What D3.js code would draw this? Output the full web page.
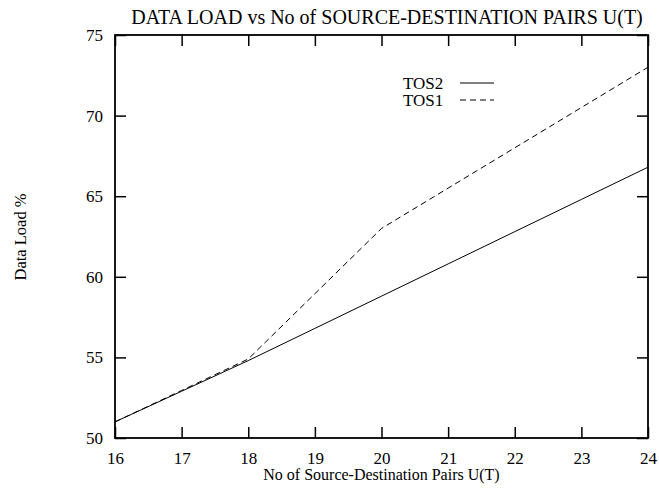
<!DOCTYPE html>
<html>
<head>
    <meta charset="utf-8">
    <script src="https://d3js.org/d3.v7.min.js"></script>
    <style>
        body { margin: 0; background: #fff; }
    </style>
</head>
<body>
<script>

    var pairs = [16, 17, 18, 19, 20, 21, 22, 23, 24];
    var tos2 = [51, 52.9, 54.8, 56.8, 58.8, 60.8, 62.8, 64.8, 66.8];
    var tos1x = [16, 17, 18, 20, 24];
    var tos1 = [51, 52.95, 54.9, 63, 73];
    var yTicks = [50, 55, 60, 65, 70, 75];

    var width = 659, height = 489;
    var pLeft = 115, pRight = 648, pTop = 35, pBottom = 438;
    var serif = '"Liberation Serif", "Times New Roman", Times, "DejaVu Serif", serif';

    var svg = d3.select('body').append('svg')
        .attr('width', width)
        .attr('height', height);

    var x = d3.scaleLinear().domain([16, 24]).range([pLeft, pRight]);
    var y = d3.scaleLinear().domain([50, 75]).range([pBottom, pTop]);

    // ticks (inward, mirrored)
    var tl = 11;
    var gxb = svg.append('g').attr('transform', 'translate(0,' + pBottom + ')')
        .call(d3.axisBottom(x).tickValues(pairs).tickSize(-tl).tickPadding(14));
    var gxt = svg.append('g').attr('transform', 'translate(0,' + pTop + ')')
        .call(d3.axisTop(x).tickValues(pairs).tickSize(-tl).tickFormat(''));
    var gyl = svg.append('g').attr('transform', 'translate(' + pLeft + ',0)')
        .call(d3.axisLeft(y).tickValues(yTicks).tickSize(-tl).tickPadding(12));
    var gyr = svg.append('g').attr('transform', 'translate(' + pRight + ',0)')
        .call(d3.axisRight(y).tickValues(yTicks).tickSize(-tl).tickFormat(''));

    svg.selectAll('g').attr('font-family', serif).attr('font-size', 17);
    svg.selectAll('.domain').remove();
    svg.selectAll('.tick line').attr('stroke', '#000').attr('stroke-width', 1.5);
    svg.selectAll('.tick text').attr('fill', '#000');

    svg.append('rect')
        .attr('x', pLeft).attr('y', pTop)
        .attr('width', pRight - pLeft).attr('height', pBottom - pTop)
        .attr('fill', 'none').attr('stroke', '#000').attr('stroke-width', 1.8);

    var line = d3.line()
        .x(function(d) { return x(d[0]); })
        .y(function(d) { return y(d[1]); });

    svg.append('path')
        .datum(pairs.map(function(p, i) { return [p, tos2[i]]; }))
        .attr('d', line)
        .attr('fill', 'none').attr('stroke', '#000').attr('stroke-width', 1);

    svg.append('path')
        .datum(tos1x.map(function(p, i) { return [p, tos1[i]]; }))
        .attr('d', line)
        .attr('fill', 'none').attr('stroke', '#000').attr('stroke-width', 1)
        .attr('stroke-dasharray', '6,4');

    // legend
    var legend = [{name: 'TOS2', dash: null, y: 83}, {name: 'TOS1', dash: '6,4', y: 100}];
    legend.forEach(function(d) {
        svg.append('text').attr('x', 403).attr('y', d.y + 5.5)
            .attr('font-family', serif).attr('font-size', 17).text(d.name);
        svg.append('line')
            .attr('x1', 460).attr('x2', 494).attr('y1', d.y).attr('y2', d.y)
            .attr('stroke', '#000').attr('stroke-width', 1)
            .attr('stroke-dasharray', d.dash);
    });

    svg.append('text')
        .attr('x', 387).attr('y', 24)
        .attr('text-anchor', 'middle')
        .attr('font-family', serif).attr('font-size', 20)
        .text('DATA LOAD vs No of SOURCE-DESTINATION PAIRS U(T)');

    svg.append('text')
        .attr('x', (pLeft + pRight) / 2).attr('y', 480)
        .attr('text-anchor', 'middle')
        .attr('font-family', serif).attr('font-size', 16)
        .text('No of Source-Destination Pairs U(T)');

    svg.append('text')
        .attr('transform', 'translate(26,237) rotate(-90)')
        .attr('text-anchor', 'middle')
        .attr('font-family', serif).attr('font-size', 16.5)
        .text('Data Load %');

</script>
</body>
</html>
